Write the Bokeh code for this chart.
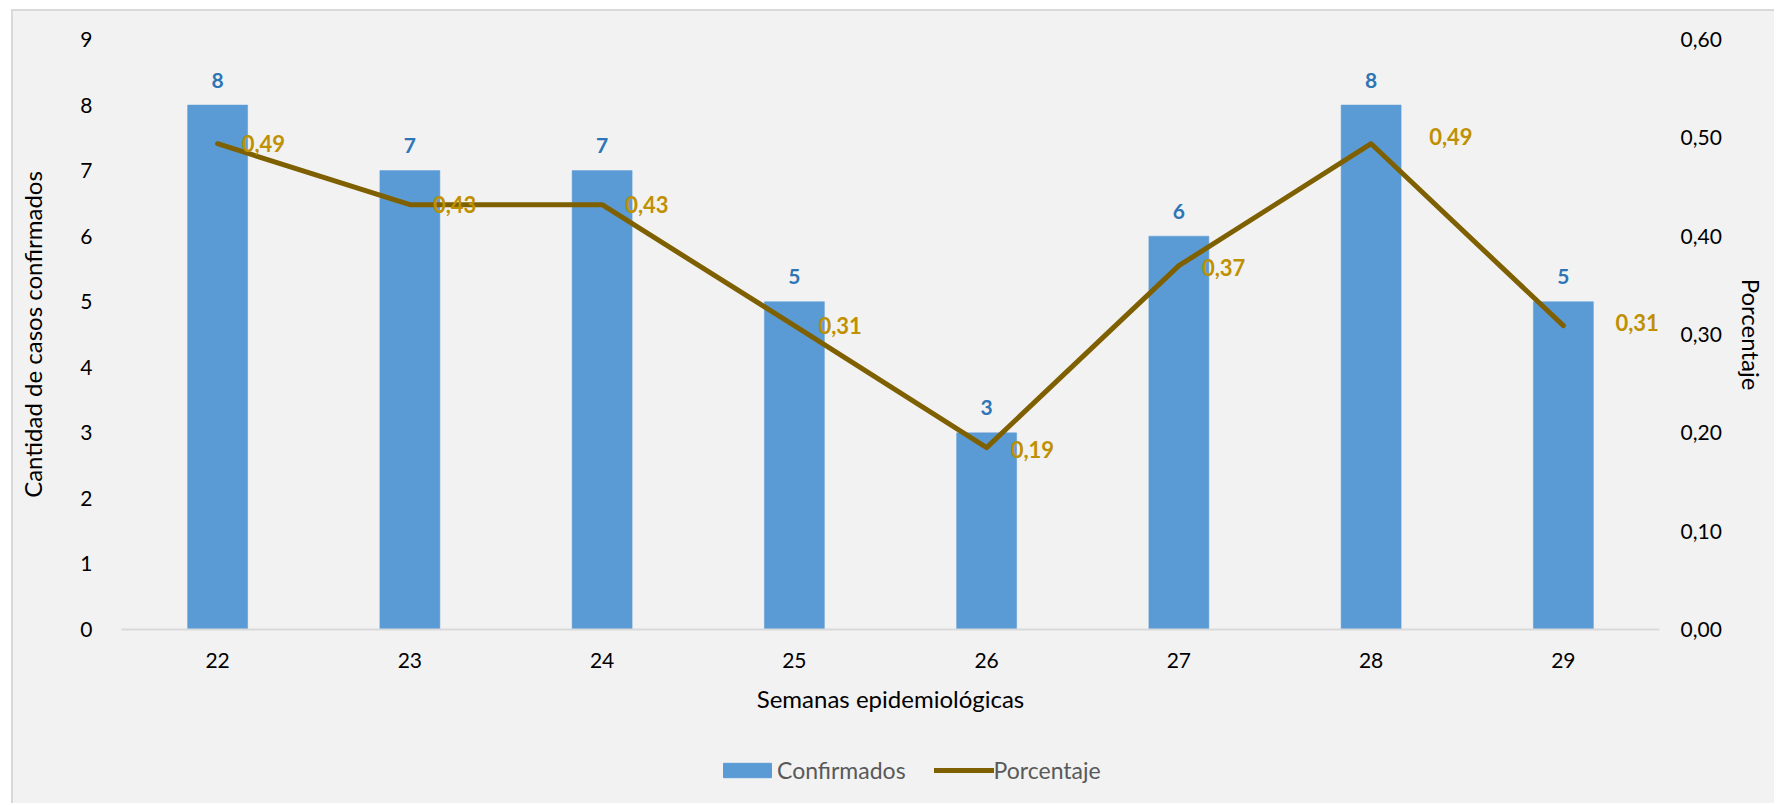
from bokeh.plotting import figure
from bokeh.layouts import column
from bokeh.models import (Range1d, LinearAxis, FixedTicker, Legend, LegendItem,
                          ColumnDataSource)
from bokeh.core.properties import value
from bokeh.embed import file_html
from bokeh.resources import INLINE

# ---- data ----
weeks = [22, 23, 24, 25, 26, 27, 28, 29]
cases = [8, 7, 7, 5, 3, 6, 8, 5]
percent = [0.494, 0.432, 0.432, 0.309, 0.185, 0.370, 0.494, 0.309]
case_labels = ["8", "7", "7", "5", "3", "6", "8", "5"]
percent_labels = ["0,49", "0,43", "0,43", "0,31", "0,19", "0,37", "0,49", "0,31"]
left_ticks = [0, 1, 2, 3, 4, 5, 6, 7, 8, 9]
right_ticks = [0.0, 0.1, 0.2, 0.3, 0.4, 0.5, 0.6]
right_tick_labels = ["0,00", "0,10", "0,20", "0,30", "0,40", "0,50", "0,60"]
week_labels = ["22", "23", "24", "25", "26", "27", "28", "29"]

# label placement tweaks (screen px)
pct_label_dx = [24, 23, 23, 24, 24, 23, 58, 52]
pct_label_dy = [0, 0, 0, 0, 2, 2, -7, -3]

FONT = "Lato"
BG = "#F2F2F2"
BAR_C = "#5B9BD5"
LINE_C = "#7F6000"

src = ColumnDataSource(dict(week=weeks, cases=cases, pct=percent,
                            clab=case_labels, plab=percent_labels,
                            dx=pct_label_dx, dy=pct_label_dy))

p = figure(frame_width=1538, frame_height=590, output_backend="svg", toolbar_location=None,
           x_range=Range1d(21.5, 29.5), y_range=Range1d(0, 9),
           min_border_left=108, min_border_right=115, min_border_top=28,
           min_border_bottom=100)
p.background_fill_color = BG
p.border_fill_color = BG
p.outline_line_color = None
p.grid.visible = False

p.extra_y_ranges = {"pct": Range1d(0, 0.6)}

# x axis
xa = p.xaxis[0]
xa.ticker = FixedTicker(ticks=weeks)
xa.major_label_overrides = {w: l for w, l in zip(weeks, week_labels)}
xa.axis_line_color = "#D9D9D9"
xa.axis_line_width = 2
xa.major_tick_line_color = None
xa.minor_tick_line_color = None
xa.major_label_text_font = FONT
xa.major_label_text_font_size = "21px"
xa.major_label_text_color = "#000000"
xa.major_label_standoff = 17
xa.axis_label = "Semanas epidemiológicas"
xa.axis_label_text_font = FONT
xa.axis_label_text_font_size = "24px"
xa.axis_label_text_font_style = "normal"
xa.axis_label_text_color = "#000000"
xa.axis_label_standoff = 13

# left axis
ya = p.yaxis[0]
ya.ticker = FixedTicker(ticks=left_ticks)
ya.axis_line_color = None
ya.major_tick_line_color = None
ya.minor_tick_line_color = None
ya.major_label_text_font = FONT
ya.major_label_text_font_size = "21px"
ya.major_label_text_color = "#000000"
ya.major_label_standoff = 23
ya.axis_label = "Cantidad de casos confirmados"
ya.axis_label_text_font = FONT
ya.axis_label_text_font_size = "24px"
ya.axis_label_text_font_style = "normal"
ya.axis_label_text_color = "#000000"
ya.axis_label_standoff = 30

# right axis
ra = LinearAxis(y_range_name="pct", ticker=FixedTicker(ticks=right_ticks))
ra.major_label_overrides = {t: l for t, l in zip(right_ticks, right_tick_labels)}
ra.axis_line_color = None
ra.major_tick_line_color = None
ra.minor_tick_line_color = None
ra.major_label_text_font = FONT
ra.major_label_text_font_size = "21px"
ra.major_label_text_color = "#000000"
ra.major_label_standoff = 15
ra.axis_label = "Porcentaje"
ra.axis_label_text_font = FONT
ra.axis_label_text_font_size = "24px"
ra.axis_label_text_font_style = "normal"
ra.axis_label_text_color = "#000000"
ra.axis_label_standoff = 12
p.add_layout(ra, "right")

# glyphs
p.vbar(x="week", top="cases", width=0.312, source=src,
       fill_color=BAR_C, line_color=BAR_C, line_width=0.5)
p.line(x="week", y="pct", source=src, y_range_name="pct",
       line_color=LINE_C, line_width=5, line_join="round", line_cap="round")

p.text(x="week", y="cases", text="clab", source=src, y_offset=-25,
       text_align="center", text_baseline="middle",
       text_font=value(FONT), text_font_size="21px", text_font_style="bold",
       text_color="#2E75B6")
p.text(x="week", y="pct", text="plab", source=src, y_range_name="pct",
       x_offset="dx", y_offset="dy", text_align="left", text_baseline="middle",
       text_font=value(FONT), text_font_size="22px", text_font_style="bold",
       text_color="#BF9000")

# legend strip below the chart (same series styles, own small canvas)
lf = figure(frame_width=1538, height=74, output_backend="svg", toolbar_location=None,
            x_axis_location=None, y_axis_location=None,
            min_border_left=108, min_border_right=115, min_border_top=0,
            min_border_bottom=0, x_range=Range1d(0, 1), y_range=Range1d(0, 1))
lf.background_fill_color = BG
lf.border_fill_color = BG
lf.outline_line_color = None
lf.grid.visible = False
nan = float("nan")
dummy = ColumnDataSource(dict(x=[nan], y=[nan]))
lb = lf.vbar(x="x", top="y", width=0.3, source=dummy,
             fill_color=BAR_C, line_color=BAR_C)
ll = lf.line(x="x", y="y", source=dummy, line_color=LINE_C, line_width=5,
             line_cap="round")
legend = Legend(items=[LegendItem(label="Confirmados", renderers=[lb]),
                       LegendItem(label="Porcentaje", renderers=[ll])],
                orientation="horizontal", location=(596, 19),
                label_text_font=FONT, label_text_font_size="23px",
                label_text_color="#595959", glyph_width=60, glyph_height=18,
                label_standoff=0, spacing=28, padding=0, margin=0,
                border_line_color=None, background_fill_alpha=0)
lf.add_layout(legend, "center")

layout = column(p, lf, spacing=0,
                styles={"border-left": "2px solid #D9D9D9",
                        "border-top": "2px solid #D9D9D9",
                        "margin-left": "11px", "margin-top": "9px",
                        "background-color": BG})
open("out.html", "w").write(file_html(layout, INLINE))
